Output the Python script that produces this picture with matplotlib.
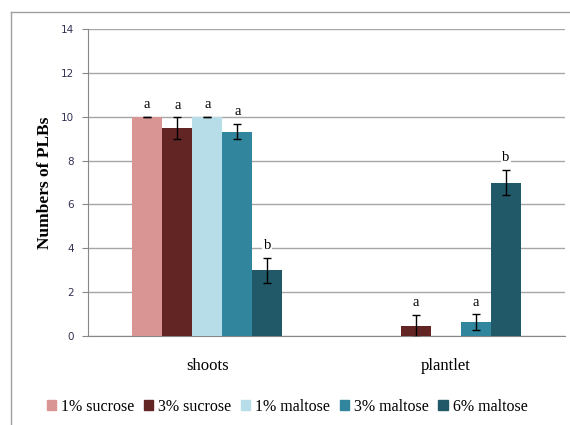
import matplotlib.pyplot as plt
import numpy as np
from matplotlib.lines import Line2D

# data: number of PLBs per treatment
categories = ['shoots', 'plantlet']
treatments = ['1% sucrose', '3% sucrose', '1% maltose', '3% maltose', '6% maltose']
means = {
    '1% sucrose': [10.0, 0.0],
    '3% sucrose': [9.47, 0.47],
    '1% maltose': [10.0, 0.0],
    '3% maltose': [9.32, 0.64],
    '6% maltose': [3.0, 7.0],
}
errors = {
    '1% sucrose': [0.0, 0.0],
    '3% sucrose': [0.5, 0.5],
    '1% maltose': [0.0, 0.0],
    '3% maltose': [0.35, 0.35],
    '6% maltose': [0.57, 0.57],
}
letters = {
    '1% sucrose': ['a', ''],
    '3% sucrose': ['a', 'a'],
    '1% maltose': ['a', ''],
    '3% maltose': ['a', 'a'],
    '6% maltose': ['b', 'b'],
}
colors = ['#D99594', '#632523', '#B7DDE8', '#31859C', '#215968']

plt.rcParams['font.family'] = ['Liberation Serif', 'DejaVu Serif']

fig = plt.figure(figsize=(5.7, 4.25), dpi=100)
ax = fig.add_axes([88/570, 89/425, 477/570, 307/425])

x = np.arange(len(categories))
w = 0.126
for i, t in enumerate(treatments):
    xs = x + (i - 2) * w
    m = np.array(means[t])
    e = np.array(errors[t])
    ax.bar(xs, m, w, color=colors[i], edgecolor='none', zorder=3)
    # no error bar on empty bars
    keep = m > 0
    ax.errorbar(xs[keep], m[keep], yerr=e[keep], fmt='none', ecolor='black',
                elinewidth=1, capsize=3, capthick=1, zorder=4)
    for j in range(len(categories)):
        lab = letters[t][j]
        if lab:
            top = m[j] + e[j]
            bb = dict(facecolor='white', edgecolor='none', pad=1) if lab == 'b' else None
            ax.annotate(lab, (xs[j], top), xytext=(0, 4), textcoords='offset points',
                        ha='center', va='bottom', fontsize=10.5, bbox=bb, zorder=5)

ax.set_xlim(-0.5, 1.5)
ax.set_ylim(0, 14)
ax.set_yticks(range(0, 15, 2))
ax.set_xticks(x)
ax.set_xticklabels(categories, fontsize=12)
ax.tick_params(axis='x', length=0, pad=16)
ax.tick_params(axis='y', length=4, color='#888888', labelsize=7.5, pad=6)
for lbl in ax.get_yticklabels():
    lbl.set_fontfamily('DejaVu Sans')
    lbl.set_color('#333355')
ax.yaxis.grid(True, color='#A6A6A6', linewidth=1, zorder=0)
ax.set_axisbelow(True)
for s in ['top', 'right']:
    ax.spines[s].set_visible(False)
ax.spines['left'].set_color('#888888')
ax.spines['bottom'].set_color('#888888')
ax.set_ylabel('Numbers of PLBs', fontsize=12.5, fontweight='bold', labelpad=6)

handles = [plt.Rectangle((0, 0), 1, 1, color=c) for c in colors]
fig.legend(handles, treatments, loc='center', bbox_to_anchor=(287/570, 1 - 407/425),
           ncol=5, frameon=False, fontsize=11.5, handlelength=0.6, handleheight=0.6,
           handletextpad=0.3, columnspacing=0.6)

# chart border
fig.add_artist(Line2D([11/570, 1], [1 - 12/425] * 2, color='#A0A0A0', lw=1))
fig.add_artist(Line2D([11/570] * 2, [0, 1 - 12/425], color='#A0A0A0', lw=1))

fig.savefig('out.png', dpi=100)
